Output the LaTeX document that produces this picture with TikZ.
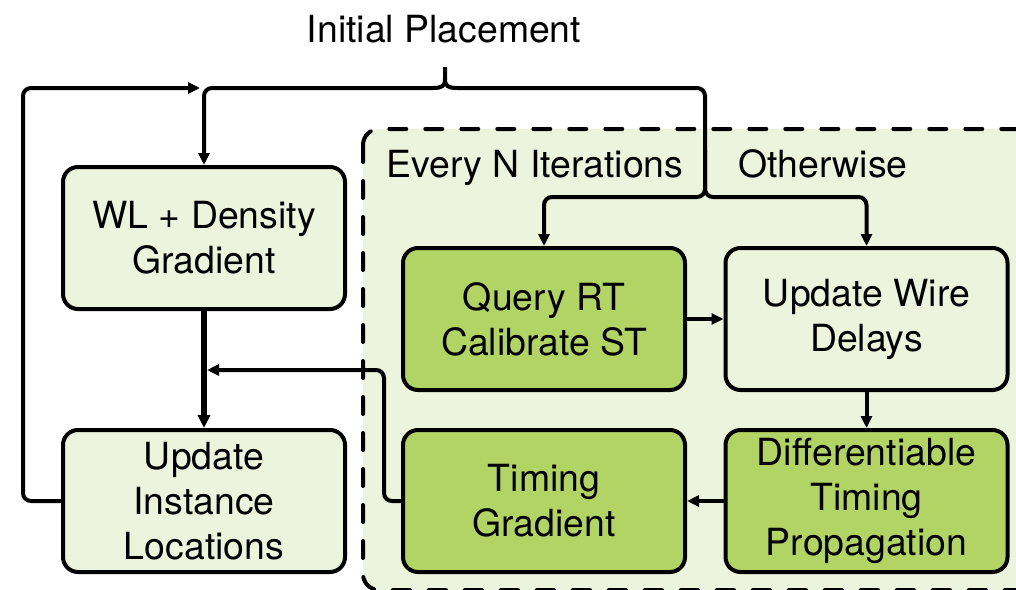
\documentclass[tikz,border=0pt]{standalone}
\usepackage{fontspec}
\setmainfont{TeX Gyre Heros}
\usetikzlibrary{arrows.meta}

\definecolor{paleGreen}{HTML}{EDF4DE}
\definecolor{leafGreen}{HTML}{B2D465}

\tikzset{
  stage/.style={draw=black, line width=2pt, rounded corners=7.5pt,
    minimum width=141pt, minimum height=71pt, inner sep=0pt,
    align=center, font=\fontsize{18.7}{22.5}\selectfont},
  lightstage/.style={stage, fill=paleGreen},
  darkstage/.style={stage, fill=leafGreen},
  flow/.style={line width=2pt, rounded corners=4pt},
  flowarrow/.style={flow, -{Triangle[length=6pt,width=5.5pt]}},
  label/.style={font=\fontsize{18.7}{22.5}\selectfont, anchor=base, inner sep=0pt},
}

\begin{document}
\begin{tikzpicture}[x=0.5pt, y=-0.5pt]
  \useasboundingbox (0,0) rectangle (1016,589);

  % timing-driven region
  \begin{scope}
    \clip (0,0) rectangle (1016,589);
    \draw[fill=paleGreen, line width=2pt, line cap=round,
          dash pattern=on 8.5pt off 9.5pt, rounded corners=8pt]
      (363,129) rectangle (1040,590);
  \end{scope}

  % stages
  \node[lightstage] (wl)    at (204,238)   {WL + Density\\Gradient};
  \node[lightstage] (upd)   at (204,501)   {Update\\Instance\\Locations};
  \node[darkstage]  (query) at (544,319)   {Query RT\\Calibrate ST};
  \node[lightstage] (wire)  at (866.5,319) {Update Wire\\Delays};
  \node[darkstage]  (tgrad) at (544,501)   {Timing\\Gradient};
  \node[darkstage]  (dtp)   at (866.5,501) {Differentiable\\Timing\\Propagation};

  % labels
  \node[label] (init)  at (444,42)  {Initial Placement};
  \node[label] (every) at (535,177) {Every N Iterations};
  \node[label] (other) at (823,177) {Otherwise};

  % routing points
  \coordinate (braceL) at (433,88);
  \coordinate (braceR) at (457,88);
  \coordinate (braceM) at (445,79);
  \coordinate (braceTip) at (445,67);
  \coordinate (branch) at (705,197);
  \coordinate (trunk) at (705,150);
  \coordinate (loopEnd) at (200,88);
  \coordinate (merge) at (207,370);

  % brace under the initial placement label
  \draw[line width=2pt] (braceL) .. controls (442,88) and (445,86) .. (braceM) -- (braceTip);
  \draw[line width=2pt] (braceR) .. controls (448,88) and (445,86) .. (braceM);

  % initial placement feeds the gradient stage
  \draw[flowarrow] (braceL) -- (wl.north |- braceL) -- (wl.north);
  % and the timing branch
  \draw[flow] (braceR) -- (branch |- braceR) -- (trunk);
  \draw[flowarrow] (trunk) -- (branch) -- (query.north |- branch) -- (query.north);
  \draw[flowarrow] (trunk) -- (branch) -- (wire.north |- branch) -- (wire.north);

  % main loop
  \draw[line width=3pt, -{Triangle[length=6.5pt,width=6pt]}] (wl.south) -- (upd.north);
  \draw[flowarrow] (upd.west) -- (23,501) -- (23,88) -- (loopEnd);

  % timing chain
  \draw[flowarrow] (query.east) -- (wire.west);
  \draw[flowarrow] (wire.south) -- (dtp.north);
  \draw[flowarrow] (dtp.west) -- (tgrad.east);
  \draw[flowarrow] (tgrad.west) -- (384,501) -- (384,370) -- (merge);
\end{tikzpicture}
\end{document}
